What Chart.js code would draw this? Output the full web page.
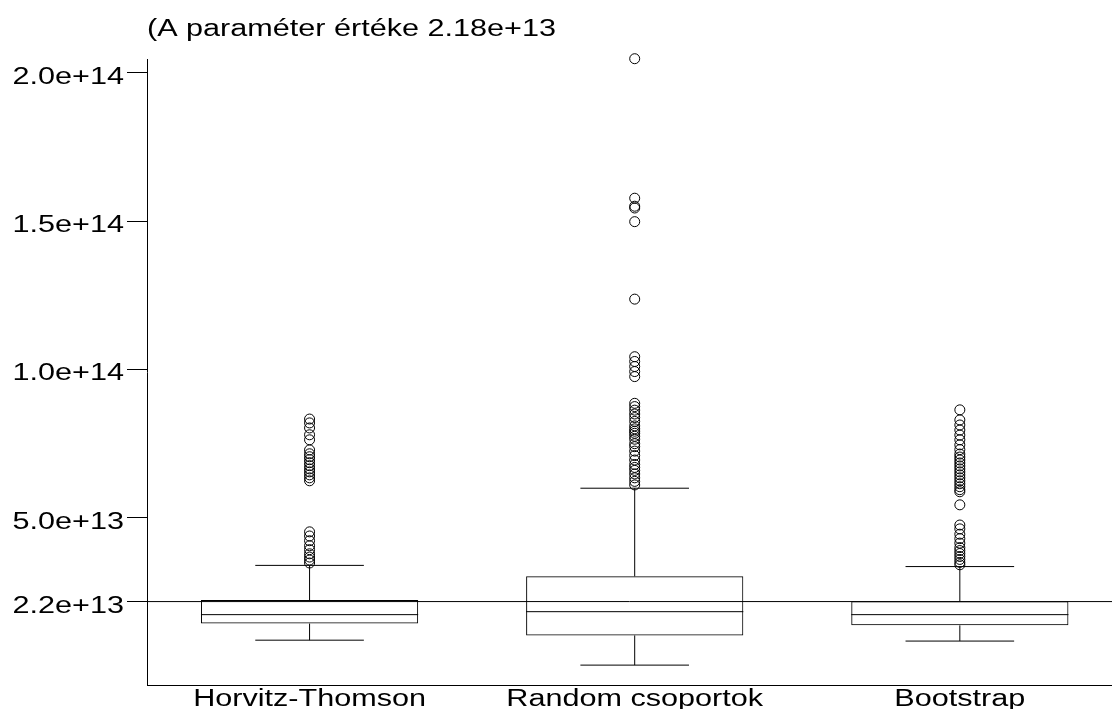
<!DOCTYPE html>
<html lang="hu">
<head>
    <meta charset="utf-8">
    <title>Becslések eloszlása</title>
    <script src="https://cdn.jsdelivr.net/npm/chart.js@4.4.0/dist/chart.umd.min.js"></script>
    <style>
        * { margin: 0; padding: 0; box-sizing: border-box; }
        html, body { background: #ffffff; overflow: hidden; }
        canvas { display: block; }
    </style>
</head>
<body>
    <canvas id="chart" width="1112" height="709"></canvas>
    <script>
        // values in units of 1e12
        const UNIT = 1e12;
        const categories = ["Horvitz-Thomson", "Random csoportok", "Bootstrap"];
        const lowerWhisker = [8.8, 0.4, 8.5];
        const q1 = [14.4, 10.4, 13.8];
        const medians = [17.4, 18.4, 17.4];
        const q3 = [22.3, 30.3, 21.9];
        const upperWhisker = [34.0, 60.0, 33.6];

        const outliersHT = [83.3, 82.0, 80.3, 78.0, 76.3, 72.9, 71.6, 70.6, 69.6, 68.6, 67.6, 66.5,
            65.5, 64.5, 63.5, 62.5, 45.3, 43.9, 42.3, 40.6, 39.3, 37.9, 36.8, 35.8, 34.8];
        const outliersRandom = [204.7, 157.7, 155.0, 154.4, 149.8, 123.7, 104.3, 102.7, 101.0, 99.3,
            97.6, 88.6, 87.5, 86.3, 85.0, 83.8, 82.5, 81.0, 80.0, 79.2, 78.5, 77.5, 76.5, 75.0, 74.0,
            72.5, 71.0, 69.5, 68.0, 67.0, 66.0, 64.8, 63.5, 62.3, 61.1];
        const outliersBoot = [86.4, 83.0, 81.3, 79.6, 77.9, 76.3, 74.6, 73.0, 71.5, 70.5, 69.5, 68.5,
            67.5, 66.5, 65.5, 64.5, 63.5, 62.5, 61.5, 60.5, 59.5, 58.8, 54.4, 47.6, 46.3, 44.5, 43.0,
            41.5, 40.0, 39.0, 38.0, 37.0, 36.0, 35.0, 34.2];
        const outliers = [outliersHT, outliersRandom, outliersBoot];

        const paramValue = 21.8;
        const yTicks = [21.8, 50, 100, 150, 200];
        const titleText = "(A paraméter értéke 2.18e+13";

        const FONT = "23px 'Liberation Sans', Arial, sans-serif";
        const STRETCH = 1.33; // the original lettering is wide

        function wideText(ctx, text, x, y, align) {
            const w = ctx.measureText(text).width * STRETCH;
            let left = x;
            if (align === "right") left = x - w;
            if (align === "center") left = x - w / 2;
            ctx.save();
            ctx.translate(left, y);
            ctx.scale(STRETCH, 1);
            ctx.textAlign = "left";
            ctx.fillText(text, 0, 0);
            ctx.restore();
        }

        // whiskers, medians, parameter line and the lettering
        const boxPlotLines = {
            id: "boxPlotLines",
            afterDatasetsDraw(chart) {
                const { ctx, chartArea, scales: { x, y } } = chart;
                const bars = chart.getDatasetMeta(0).data;
                ctx.save();
                ctx.strokeStyle = "#000";
                ctx.lineWidth = 1;
                ctx.beginPath();
                const py = y.getPixelForValue(paramValue);
                ctx.moveTo(chartArea.left, py);
                ctx.lineTo(chartArea.right, py);
                categories.forEach((c, i) => {
                    const cx = x.getPixelForValue(i + 1);
                    const half = bars[i].width / 2;
                    const cap = half / 2;
                    const yMed = y.getPixelForValue(medians[i]);
                    const yUp = y.getPixelForValue(upperWhisker[i]);
                    const yLo = y.getPixelForValue(lowerWhisker[i]);
                    ctx.moveTo(cx - half, yMed);
                    ctx.lineTo(cx + half, yMed);
                    ctx.moveTo(cx, y.getPixelForValue(q3[i]));
                    ctx.lineTo(cx, yUp);
                    ctx.moveTo(cx, y.getPixelForValue(q1[i]));
                    ctx.lineTo(cx, yLo);
                    ctx.moveTo(cx - cap, yUp);
                    ctx.lineTo(cx + cap, yUp);
                    ctx.moveTo(cx - cap, yLo);
                    ctx.lineTo(cx + cap, yLo);
                });
                ctx.stroke();

                ctx.fillStyle = "#000";
                ctx.font = FONT;
                ctx.textBaseline = "alphabetic";
                wideText(ctx, titleText, chartArea.left, 36, "left");
                y.ticks.forEach((t) => {
                    const label = (t.value * UNIT).toExponential(1);
                    wideText(ctx, label, x.left - 23, y.getPixelForValue(t.value) + 11, "right");
                });
                x.ticks.forEach((t) => {
                    wideText(ctx, categories[t.value - 1], x.getPixelForValue(t.value), 706, "center");
                });
                ctx.restore();
            }
        };

        const outlierPoints = [];
        outliers.forEach((list, i) => list.forEach(v => outlierPoints.push({ x: i + 1, y: v })));

        new Chart(document.getElementById("chart"), {
            type: "bar",
            data: {
                datasets: [{
                    type: "bar",
                    data: categories.map((c, i) => ({ x: i + 1, y: [q1[i], q3[i]] })),
                    backgroundColor: "rgba(0,0,0,0)",
                    borderColor: "#000",
                    borderWidth: 1,
                    borderSkipped: false,
                    barPercentage: 0.668,
                    categoryPercentage: 1
                }, {
                    type: "scatter",
                    data: outlierPoints,
                    pointRadius: 5,
                    pointBorderWidth: 1,
                    pointBorderColor: "#000",
                    pointBackgroundColor: "rgba(0,0,0,0)",
                    clip: false
                }]
            },
            options: {
                responsive: false,
                animation: false,
                layout: { autoPadding: false, padding: { top: 59, left: 0, right: 0, bottom: 0 } },
                plugins: {
                    legend: { display: false },
                    tooltip: { enabled: false }
                },
                scales: {
                    x: {
                        type: "linear",
                        offset: false,
                        min: 0.5,
                        max: 3.468,
                        afterBuildTicks: (scale) => { scale.ticks = categories.map((c, i) => ({ value: i + 1 })); },
                        afterFit: (scale) => { scale.height = 24; },
                        grid: { display: false, offset: false },
                        border: { display: true, color: "#000", width: 1 },
                        ticks: { display: false }
                    },
                    y: {
                        type: "linear",
                        min: -6.3,
                        max: 204.6,
                        afterBuildTicks: (scale) => { scale.ticks = yTicks.map(v => ({ value: v })); },
                        afterFit: (scale) => { scale.width = 147; },
                        grid: { drawOnChartArea: false, drawTicks: true, tickLength: 20, color: "#000" },
                        border: { display: true, color: "#000", width: 1 },
                        ticks: { display: false }
                    }
                }
            },
            plugins: [boxPlotLines]
        });
    </script>
</body>
</html>
